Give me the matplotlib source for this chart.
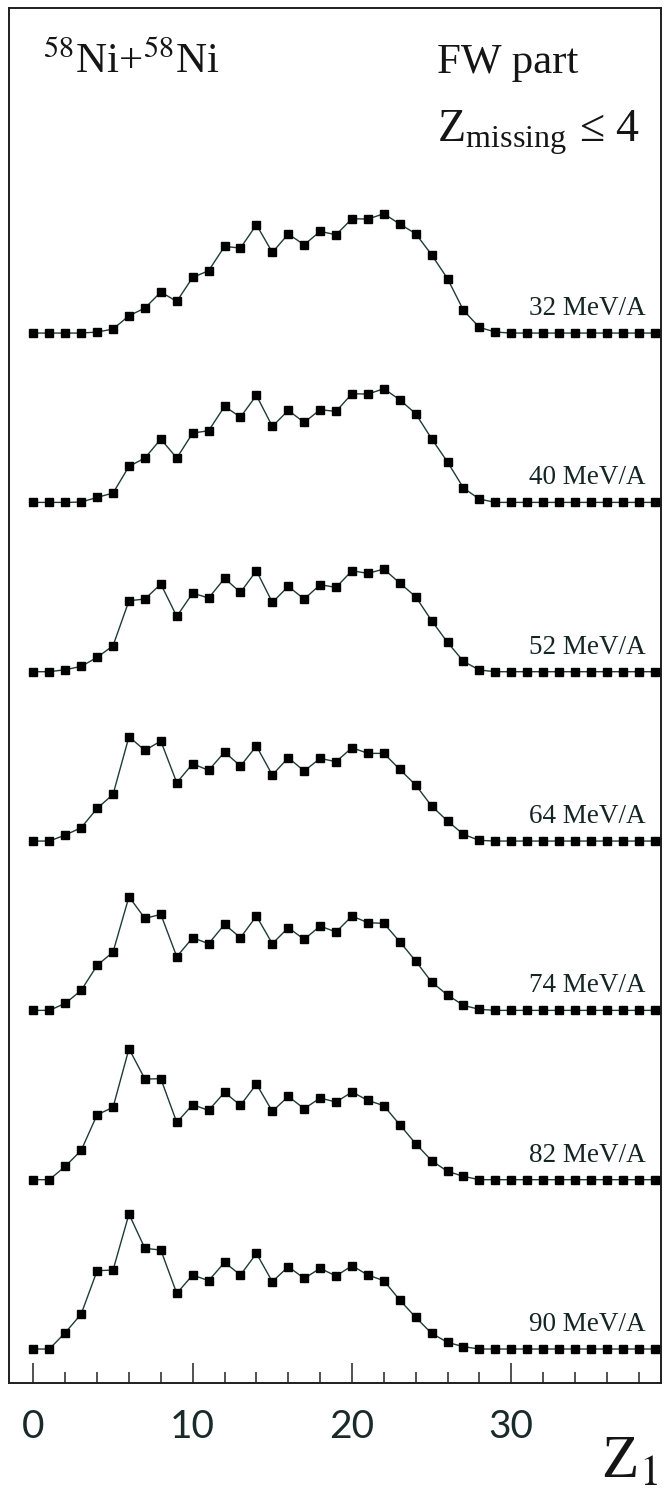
import numpy as np
import matplotlib
matplotlib.use("Agg")
import matplotlib.pyplot as plt
from matplotlib.ticker import MultipleLocator

# ---------------- data ----------------
z1 = list(range(40))
energies = ["32 MeV/A", "40 MeV/A", "52 MeV/A", "64 MeV/A", "74 MeV/A", "82 MeV/A", "90 MeV/A"]

y_32 = [0, 0, 0, 0, 3, 12, 52, 75, 123, 95, 167, 187, 260, 255, 325, 242, 297, 265, 305, 295,
        343, 342, 358, 327, 298, 235, 163, 68, 17, 3, 0, 0, 0, 0, 0, 0, 0, 0, 0, 0]
y_40 = [0, 0, 0, 1, 15, 28, 108, 133, 190, 133, 208, 215, 288, 256, 321, 228, 276, 240, 278, 273,
        326, 325, 341, 308, 266, 191, 121, 43, 10, 0, 0, 0, 0, 0, 0, 0, 0, 0, 0, 0]
y_52 = [0, 0, 6, 16, 43, 78, 213, 218, 263, 166, 236, 221, 280, 238, 303, 208, 256, 218, 261, 253,
        303, 295, 308, 266, 225, 153, 88, 31, 5, 0, 0, 0, 0, 0, 0, 0, 0, 0, 0, 0]
y_64 = [0, 0, 18, 40, 98, 140, 313, 272, 300, 175, 232, 212, 267, 225, 285, 198, 250, 210, 248, 238,
        280, 263, 263, 215, 168, 105, 60, 20, 2, 0, 0, 0, 0, 0, 0, 0, 0, 0, 0, 0]
y_74 = [0, 0, 21, 60, 135, 175, 341, 276, 288, 161, 218, 200, 258, 218, 283, 200, 248, 213, 253, 235,
        283, 263, 261, 206, 148, 85, 46, 15, 3, 0, 0, 0, 0, 0, 0, 0, 0, 0, 0, 0]
y_82 = [0, 0, 40, 88, 195, 217, 393, 302, 303, 172, 225, 208, 262, 223, 287, 205, 250, 213, 245, 233,
        263, 238, 222, 165, 108, 57, 25, 10, 0, 0, 0, 0, 0, 0, 0, 0, 0, 0, 0, 0]
y_90 = [0, 0, 49, 105, 235, 237, 405, 302, 297, 167, 222, 205, 260, 222, 287, 202, 247, 212, 242, 219,
        250, 222, 205, 147, 95, 47, 20, 7, 0, 0, 0, 0, 0, 0, 0, 0, 0, 0, 0, 0]
series = [y_32, y_40, y_52, y_64, y_74, y_82, y_90]

xticks = [0, 10, 20, 30]
xtick_labels = ["0", "10", "20", "30"]

# ---------------- style ----------------
offset_step = 508
serif = ["Liberation Serif", "DejaVu Serif"]
plt.rcParams["mathtext.fontset"] = "stix"
plt.rcParams["font.family"] = serif

fig = plt.figure(figsize=(6.64, 14.95), dpi=100)
ax = fig.add_axes([0.0136, 0.0749, 0.9819, 0.9197])

n = len(series)
for i, (ys, lab) in enumerate(zip(series, energies)):
    off = (n - 1 - i) * offset_step
    yy = np.asarray(ys, dtype=float) + off
    ax.plot(z1, yy, color="#1f3a3a", lw=1.0, marker="s", ms=6.4,
            mfc="black", mec="black", zorder=3)
    ax.text(38.45, off + 54, lab, ha="right", va="baseline",
            fontsize=19.5, color="#152525", family=serif)

ax.set_xlim(-1.53, 39.4)
ax.set_ylim(-102, 4023)

ax.set_xticks(xticks)
ax.set_xticklabels(xtick_labels, family=["Lato", "DejaVu Sans"],
                   fontsize=28, color="#1a2a2a")
ax.xaxis.set_minor_locator(MultipleLocator(2))
ax.tick_params(axis="x", which="major", direction="in", length=14.5, width=1.1,
               pad=19, color="#222222")
ax.tick_params(axis="x", which="minor", direction="in", length=8, width=1.1,
               color="#222222")
ax.tick_params(axis="y", left=False, labelleft=False)
ax.set_yticks([])
for s in ax.spines.values():
    s.set_linewidth(1.4)
    s.set_color("#1e1e1e")

# annotations
ax.text(0.052, 0.953, r"$^{58}$Ni+$^{58}$Ni", transform=ax.transAxes,
        ha="left", va="baseline", fontsize=31, color="#151515")
ax.text(0.656, 0.953, "FW part", transform=ax.transAxes,
        ha="left", va="baseline", fontsize=31, color="#151515")
ax.text(0.656, 0.903, r"Z$_{\mathregular{missing}}$ ≤ 4", transform=ax.transAxes,
        ha="left", va="baseline", fontsize=33, color="#151515")

fig.text(0.905, 0.0117, r"Z$_{1}$", ha="left", va="baseline",
         fontsize=44, color="#151515")

fig.savefig("out.png", dpi=100)
